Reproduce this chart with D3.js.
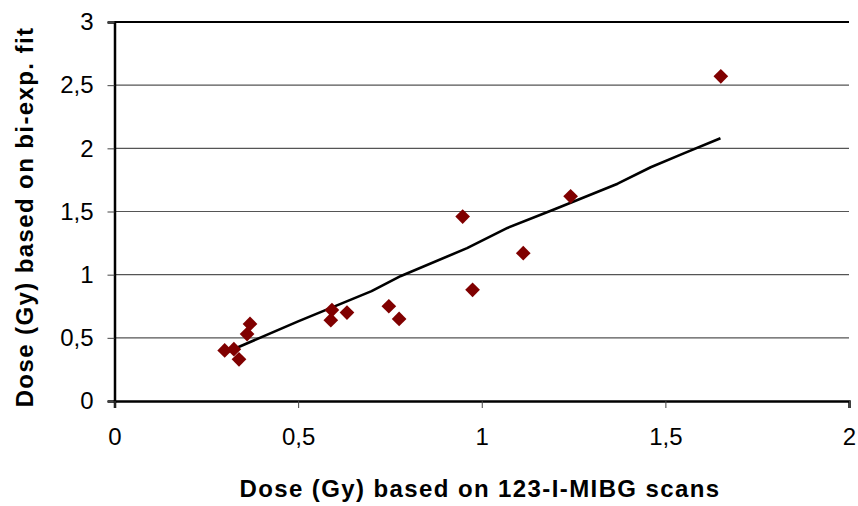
<!DOCTYPE html>
<html>
<head>
<meta charset="utf-8">
<script src="https://cdn.jsdelivr.net/npm/d3@7"></script>
<style>
  html, body { margin: 0; padding: 0; background: #fff; }
  svg { display: block; font-family: "Liberation Sans", Arial, sans-serif; }
</style>
</head>
<body>
<svg id="chart" width="858" height="506"></svg>
<script>
// Measured doses: 123-I-MIBG scan estimate (x) vs bi-exponential fit (y)
const scanDose  = [0.30, 0.325, 0.339, 0.361, 0.369, 0.592, 0.589, 0.633, 0.747, 0.775, 0.948, 0.975, 1.113, 1.242, 1.651];
const fitDose   = [0.40, 0.41, 0.33, 0.53, 0.61, 0.72, 0.64, 0.70, 0.75, 0.65, 1.46, 0.88, 1.17, 1.62, 2.57];

// Trend line through the fitted relation
const trendX = [0.30, 0.50, 0.70, 0.78, 0.96, 1.07, 1.20, 1.37, 1.46, 1.55, 1.65];
const trendY = [0.38, 0.63, 0.87, 0.99, 1.21, 1.37, 1.52, 1.72, 1.85, 1.96, 2.08];

const xTicks = [0, 0.5, 1, 1.5, 2];
const yTicks = [0, 0.5, 1, 1.5, 2, 2.5, 3];

const xTitle = "Dose (Gy) based on 123-I-MIBG scans";
const yTitle = "Dose (Gy) based on bi-exp. fit";

const svg = d3.select("#chart");
const plotLeft = 114.5, plotRight = 849, plotTop = 22, plotBottom = 401;

const x = d3.scaleLinear().domain([0, 2]).range([plotLeft, plotRight]);
const y = d3.scaleLinear().domain([0, 3]).range([plotBottom, plotTop]);
const fmt = d => String(d).replace(".", ",");

// horizontal gridlines
svg.append("g").selectAll("line")
  .data(yTicks.filter(d => d > 0))
  .join("line")
  .attr("x1", plotLeft).attr("x2", plotRight)
  .attr("y1", d => y(d)).attr("y2", d => y(d))
  .attr("stroke", d => d === 3 ? "#000" : "#555")
  .attr("stroke-width", d => d === 3 ? 2 : 1.2);

// y axis
const yAxis = svg.append("g")
  .attr("transform", `translate(${plotLeft},0)`)
  .call(d3.axisLeft(y).tickValues(yTicks).tickFormat(fmt).tickSize(7).tickPadding(14));
yAxis.select(".domain").attr("stroke", "#000").attr("stroke-width", 2.5);
yAxis.selectAll(".tick line").attr("stroke", "#444").attr("stroke-width", 1);
yAxis.selectAll("text").attr("font-size", 24).attr("fill", "#000")
  .attr("font-family", "Liberation Sans, Arial, sans-serif");

// x axis
const xAxis = svg.append("g")
  .attr("transform", `translate(0,${plotBottom})`)
  .call(d3.axisBottom(x).tickValues(xTicks).tickFormat(fmt).tickSize(7).tickPadding(20));
xAxis.select(".domain").attr("stroke", "#000").attr("stroke-width", 2.5);
xAxis.selectAll(".tick line").attr("stroke", "#444").attr("stroke-width", 1);
xAxis.selectAll("text").attr("font-size", 24).attr("fill", "#000")
  .attr("font-family", "Liberation Sans, Arial, sans-serif");

// trend line
const line = d3.line().x(d => x(d[0])).y(d => y(d[1]));
svg.append("path")
  .datum(trendX.map((v, i) => [v, trendY[i]]))
  .attr("d", line)
  .attr("fill", "none")
  .attr("stroke", "#000")
  .attr("stroke-width", 2.6)
  .attr("stroke-linejoin", "round");

// diamond markers
const diamond = d3.symbol().type(d3.symbolSquare).size(108);
svg.append("g").selectAll("path")
  .data(scanDose.map((v, i) => [v, fitDose[i]]))
  .join("path")
  .attr("d", diamond)
  .attr("transform", d => `translate(${x(d[0])},${y(d[1])}) rotate(45)`)
  .attr("fill", "#800000");

// axis titles
svg.append("text")
  .attr("x", 480).attr("y", 497)
  .attr("text-anchor", "middle")
  .attr("font-size", 24).attr("font-weight", "bold")
  .attr("letter-spacing", 1.4)
  .text(xTitle);

svg.append("text")
  .attr("transform", `translate(33,217) rotate(-90)`)
  .attr("text-anchor", "middle")
  .attr("font-size", 24).attr("font-weight", "bold")
  .attr("letter-spacing", 1.4)
  .text(yTitle);
</script>
</body>
</html>
